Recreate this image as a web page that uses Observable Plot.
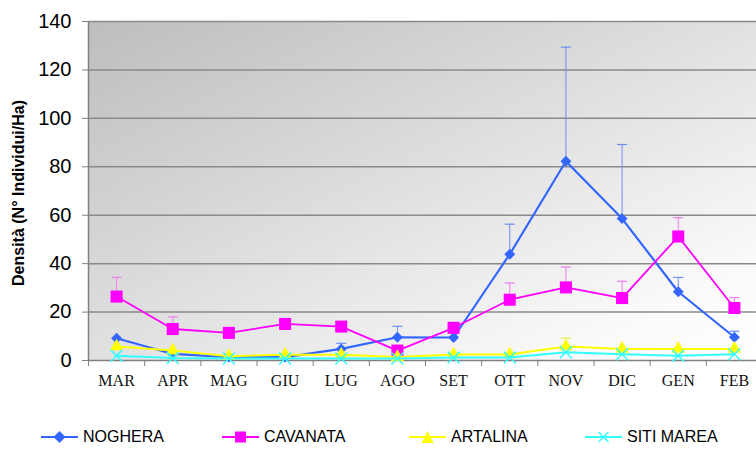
<!DOCTYPE html>
<html>
<head>
<meta charset="utf-8">
<script src="https://cdn.jsdelivr.net/npm/d3@7"></script>
<script src="https://cdn.jsdelivr.net/npm/@observablehq/plot@0.6"></script>
<style>
  html, body { margin: 0; padding: 0; background: #fff; }
  #wrap { width: 756px; height: 454px; position: relative; overflow: hidden; }
  g[aria-label="month-labels"] text { letter-spacing: 1px; }
  #legend { position: relative; width: 756px; height: 34px; font-family: "Liberation Sans", Arial, sans-serif; font-size: 16px; color: #000; }
  .item { position: absolute; top: 17px; display: flex; align-items: center; }
  .item svg { display: block; margin-right: 5px; }
</style>
</head>
<body>
<div id="wrap"><div id="chart"></div><div id="legend"></div></div>
<script>
const months = ["MAR","APR","MAG","GIU","LUG","AGO","SET","OTT","NOV","DIC","GEN","FEB"];
const yTicks = [0, 20, 40, 60, 80, 100, 120, 140];
const seriesNames = ["NOGHERA", "CAVANATA", "ARTALINA", "SITI MAREA"];

const noghera     = [9.2, 2.7, 1.4, 1.4, 4.8, 9.6, 9.5, 43.9, 82.3, 58.6, 28.4, 9.6];
const nogheraErr  = [null, null, null, null, 7.1, 14.1, null, 56.3, 129.4, 89.2, 34.3, 12.1];
const cavanata    = [26.4, 13.0, 11.4, 15.1, 14.0, 4.1, 13.5, 25.1, 30.2, 25.8, 51.2, 21.7];
const cavanataErr = [34.3, 18.0, null, null, null, null, null, 32.0, 38.6, 32.7, 59.0, 26.0];
const artalina    = [5.8, 4.1, 1.8, 2.4, 2.4, 1.4, 2.5, 2.5, 5.8, 4.8, 4.8, 4.8];
const artalinaErr = [null, null, null, null, null, null, null, null, 9.3, null, null, null];
const sitiMarea   = [2.0, 1.0, 0.8, 0.8, 0.8, 0.8, 1.2, 1.2, 3.4, 2.6, 2.0, 2.6];
const sitiMareaErr= [null, null, null, null, null, null, null, null, null, null, null, null];

const values = [noghera, cavanata, artalina, sitiMarea];
const errs = [nogheraErr, cavanataErr, artalinaErr, sitiMareaErr];
const colors = ["#3366ff", "#ff00ff", "#ffff00", "#33ffff"];
const errColors = ["#6f8ff2", "#f07ef0", "#eeee55", "#7ff0f0"];
const symbols = ["diamond2", "square", "triangle", "times"];
const radii = [4.9, 6.8, 5.0, 5.5];
const lineWidths = [2.2, 1.8, 2, 2];

const rows = seriesNames.flatMap((s, k) => values[k].map((v, i) => ({
  series: s, k, i, x: i + 0.5, y: v, err: errs[k][i]
})));
const bounds = months.map((m, i) => i);

const marks = [
  Plot.frame({fill: "url(#bg)", stroke: "none"}),
  Plot.ruleY(yTicks.filter(t => t > 0), {stroke: "#8a8a8a", strokeWidth: 1.5}),
  Plot.axisY(yTicks, {tickSize: 6, tickPadding: 11, fontSize: 20, stroke: "#808080", label: null, tickFormat: d => String(d)}),
  Plot.ruleX([0], {stroke: "#808080", strokeWidth: 1.5}),
  Plot.ruleY([0], {stroke: "#808080", strokeWidth: 1.5}),
  Plot.axisX(bounds, {tickSize: 6, tickFormat: () => "", stroke: "#808080", label: null}),
  Plot.text(months, {x: (d, i) => i + 0.5, frameAnchor: "bottom", dy: 25, text: d => d,
    fontSize: 16, fontFamily: "Liberation Serif, Times New Roman, serif", fill: "#111", ariaLabel: "month-labels"}),
  Plot.text(["Densità (N° Individui/Ha)"], {frameAnchor: "left", textAnchor: "middle", rotate: -90, dx: -70, dy: 2,
    fontSize: 16, fontWeight: "bold", fill: "#000"})
];

seriesNames.forEach((s, k) => {
  const sd = rows.filter(d => d.k === k);
  const ed = sd.filter(d => d.err != null);
  marks.push(
    Plot.ruleX(ed, {x: "x", y1: "y", y2: "err", stroke: errColors[k], strokeWidth: 1}),
    Plot.link(ed, {x1: d => d.x - 0.09, x2: d => d.x + 0.09, y1: "err", y2: "err", stroke: errColors[k], strokeWidth: 1.2}),
    Plot.line(sd, {x: "x", y: "y", stroke: colors[k], strokeWidth: lineWidths[k]}),
    symbols[k] === "times"
      ? Plot.dot(sd, {x: "x", y: "y", symbol: symbols[k], r: radii[k], stroke: colors[k], strokeWidth: 1.5, fill: "none"})
      : Plot.dot(sd, {x: "x", y: "y", symbol: symbols[k], r: radii[k], fill: colors[k], stroke: "none"})
  );
});

const chart = Plot.plot({
  width: 756,
  height: 420,
  marginTop: 21,
  marginBottom: 60,
  marginLeft: 88,
  marginRight: 0,
  style: {fontFamily: "Liberation Sans, Arial, sans-serif", background: "#fff", color: "#000"},
  x: {domain: [0, 12], range: [88, 762]},
  y: {domain: [0, 140]},
  marks
});

const ns = "http://www.w3.org/2000/svg";
const defs = document.createElementNS(ns, "defs");
defs.innerHTML = '<linearGradient id="bg" x1="0" y1="0" x2="1" y2="1">' +
  '<stop offset="0" stop-color="#bdbdbd"/><stop offset="0.85" stop-color="#fafafa"/><stop offset="1" stop-color="#ffffff"/></linearGradient>';
chart.insertBefore(defs, chart.firstChild);
document.getElementById("chart").appendChild(chart);

// legend
const legend = document.getElementById("legend");
const lefts = [41, 222, 409, 585];
function markerSvg(k) {
  const c = colors[k];
  let m = "";
  if (k === 0) m = `<path d="M18.5 1 L24.5 7 L18.5 13 L12.5 7 Z" fill="${c}"/>`;
  if (k === 1) m = `<rect x="13" y="1.5" width="11" height="11" fill="${c}"/>`;
  if (k === 2) m = `<path d="M18.5 1 L24.5 13 L12.5 13 Z" fill="${c}"/>`;
  if (k === 3) m = `<path d="M13.5 2 L23.5 12 M23.5 2 L13.5 12" stroke="${c}" stroke-width="1.3"/>`;
  return `<svg width="37" height="14"><line x1="0" y1="7" x2="37" y2="7" stroke="${c}" stroke-width="2"/>${m}</svg>`;
}
seriesNames.forEach((s, k) => {
  const it = document.createElement("div");
  it.className = "item";
  it.style.left = lefts[k] + "px";
  it.style.transform = "translateY(-50%)";
  it.innerHTML = markerSvg(k) + `<span>${s}</span>`;
  legend.appendChild(it);
});
</script>
</body>
</html>
